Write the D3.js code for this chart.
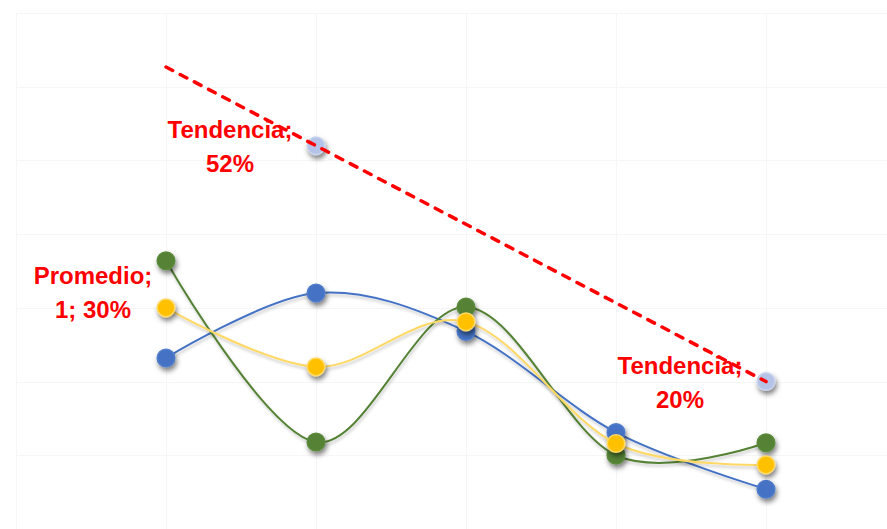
<!DOCTYPE html>
<html>
<head>
<meta charset="utf-8">
<script src="https://cdn.jsdelivr.net/npm/d3@7"></script>
<style>
  html, body { margin: 0; padding: 0; background: #ffffff; overflow: hidden; }
  svg { display: block; }
</style>
</head>
<body>
<svg id="chart" width="887" height="529"></svg>
<script>
// Valores X de las series
const xValues = [1, 2, 3, 4, 5];
// Serie azul
const serieAzul = [0.232, 0.320, 0.268, 0.131, 0.054];
// Serie verde
const serieVerde = [0.364, 0.118, 0.301, 0.100, 0.117];
// Serie amarilla (Promedio)
const promedio = [0.30, 0.220, 0.281, 0.116, 0.087];
// Puntos de la serie Tendencia
const tendenciaX = [2, 5];
const tendencia = [0.52, 0.20];
// Líneas de cuadrícula
const xTicks = [0, 1, 2, 3, 4, 5, 6];
const yTicks = [0, 0.1, 0.2, 0.3, 0.4, 0.5, 0.6, 0.7];

const svg = d3.select("#chart");

const x = d3.scaleLinear().domain([0, 6]).range([16, 916]);
const y = d3.scaleLinear().domain([0, 0.7]).range([529, 13]);

// Sombras
const defs = svg.append("defs");
const fm = defs.append("filter").attr("id", "sombra").attr("x", "-80%").attr("y", "-80%").attr("width", "260%").attr("height", "260%");
fm.append("feDropShadow").attr("dx", 1.5).attr("dy", 3.5).attr("stdDeviation", 2.4)
  .attr("flood-color", "#000").attr("flood-opacity", 0.5);
const fl = defs.append("filter").attr("id", "sombraLinea").attr("x", "-10%").attr("y", "-20%").attr("width", "120%").attr("height", "140%");
fl.append("feDropShadow").attr("dx", 1).attr("dy", 2.5).attr("stdDeviation", 1.8)
  .attr("flood-color", "#000").attr("flood-opacity", 0.22);

// Cuadrícula
const grid = svg.append("g").attr("stroke", "#f6f6f6").attr("stroke-width", 1).attr("shape-rendering", "crispEdges");
grid.selectAll("line.h").data(yTicks).join("line").attr("class", "h")
  .attr("x1", x(0)).attr("x2", x(6))
  .attr("y1", d => Math.round(y(d)) + 0.5).attr("y2", d => Math.round(y(d)) + 0.5);
grid.selectAll("line.v").data(xTicks).join("line").attr("class", "v")
  .attr("x1", d => Math.round(x(d)) + 0.5).attr("x2", d => Math.round(x(d)) + 0.5)
  .attr("y1", y(0.7)).attr("y2", y(0));

const series = [
  { valores: serieAzul, linea: "#4472c4", relleno: "#4472c4", borde: "#4f7ccb" },
  { valores: serieVerde, linea: "#548235", relleno: "#548235", borde: "#5a8a3a" },
  { valores: promedio, linea: "#ffd966", relleno: "#ffc000", borde: "#ffd966" }
];

const curva = d3.line()
  .x(d => x(d[0]))
  .y(d => y(d[1]))
  .curve(d3.curveCatmullRom.alpha(0));

series.forEach(s => {
  const pts = xValues.map((xv, i) => [xv, s.valores[i]]);
  const g = svg.append("g");
  g.append("path").datum(pts)
    .attr("d", curva)
    .attr("fill", "none")
    .attr("stroke", s.linea)
    .attr("stroke-width", 2)
    .attr("filter", "url(#sombraLinea)");
  g.selectAll("circle").data(pts).join("circle")
    .attr("cx", d => x(d[0]))
    .attr("cy", d => y(d[1]))
    .attr("r", 8.8)
    .attr("fill", s.relleno)
    .attr("stroke", s.borde)
    .attr("stroke-width", 1.5)
    .attr("filter", "url(#sombra)");
});

// Serie Tendencia
const tendPts = tendenciaX.map((xv, i) => [xv, tendencia[i]]);
svg.append("g").selectAll("circle").data(tendPts).join("circle")
  .attr("cx", d => x(d[0]))
  .attr("cy", d => y(d[1]))
  .attr("r", 8.8)
  .attr("fill", "#b4c3e7")
  .attr("stroke", "#c8d3ee")
  .attr("stroke-width", 1.5)
  .attr("filter", "url(#sombra)");

// Línea de tendencia lineal (pronóstico hacia atrás de 1 periodo)
const mx = d3.mean(tendPts, d => d[0]), my = d3.mean(tendPts, d => d[1]);
const pend = d3.sum(tendPts, d => (d[0] - mx) * (d[1] - my)) / d3.sum(tendPts, d => (d[0] - mx) ** 2);
const inter = my - pend * mx;
const xIni = d3.min(tendenciaX) - 1, xFin = d3.max(tendenciaX);
svg.append("line")
  .attr("x1", x(xIni)).attr("y1", y(inter + pend * xIni))
  .attr("x2", x(xFin)).attr("y2", y(inter + pend * xFin))
  .attr("stroke", "#ff0000")
  .attr("stroke-width", 3.5)
  .attr("stroke-dasharray", "7.5 8.5")
  .attr("stroke-linecap", "round");

// Etiquetas de datos
const fmtPct = v => Math.round(v * 100) + "%";
const etiquetas = [
  { x: tendenciaX[0], v: tendencia[0], lineas: ["Tendencia;", fmtPct(tendencia[0])], dx: -86, dy: -8 },
  { x: tendenciaX[1], v: tendencia[1], lineas: ["Tendencia;", fmtPct(tendencia[1])], dx: -86, dy: -8 },
  { x: xValues[0], v: promedio[0], lineas: ["Promedio;", xValues[0] + "; " + fmtPct(promedio[0])], dx: -73, dy: -24 }
];
const gl = svg.append("g")
  .attr("font-family", "'Liberation Sans', Arial, sans-serif")
  .attr("font-weight", "bold")
  .attr("font-size", 24)
  .attr("fill", "#ff0000")
  .attr("text-anchor", "middle");
etiquetas.forEach(e => {
  const t = gl.append("text")
    .attr("x", x(e.x) + e.dx)
    .attr("y", y(e.v) + e.dy);
  e.lineas.forEach((l, i) => {
    t.append("tspan").attr("x", x(e.x) + e.dx).attr("dy", i === 0 ? 0 : 34).text(l);
  });
});
</script>
</body>
</html>
